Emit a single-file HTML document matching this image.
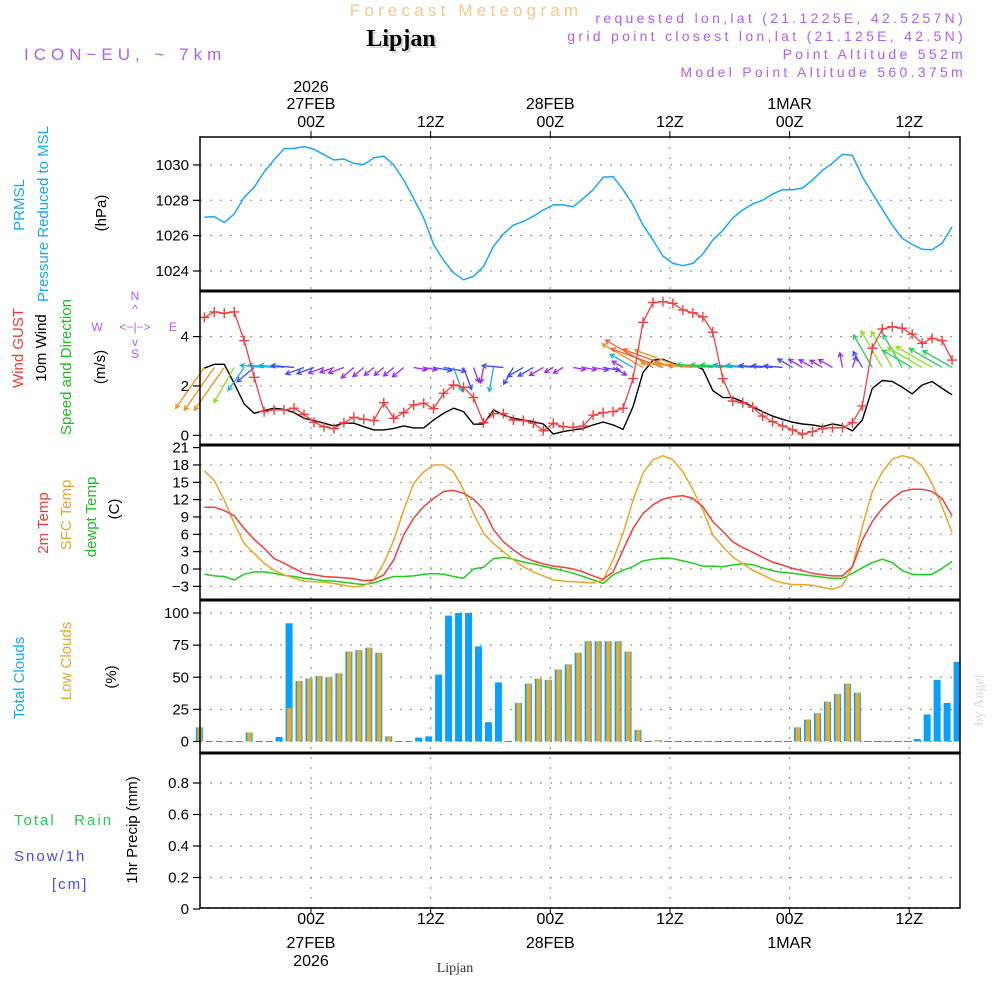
<!DOCTYPE html>
<html><head><meta charset="utf-8"><style>
html,body{margin:0;padding:0;background:#fff;}
svg{display:block;font-family:"Liberation Sans",sans-serif;}
</style></head><body>
<svg id="chart" width="1000" height="1000" viewBox="0 0 1000 1000" xmlns="http://www.w3.org/2000/svg">
<text x="466" y="16" text-anchor="middle" font-size="17" fill="#f3c98a" letter-spacing="4.2">Forecast Meteogram</text>
<text x="403" y="48" text-anchor="middle" font-size="24" font-weight="bold" font-family="Liberation Serif, serif" fill="#cdd8c8">Lipjan</text>
<text x="401" y="46" text-anchor="middle" font-size="24" font-weight="bold" font-family="Liberation Serif, serif" fill="#000">Lipjan</text>
<text x="24" y="60" font-size="17" fill="#b060f0" letter-spacing="5">ICON−EU, ~ 7km</text>
<g font-size="14" fill="#b060f0" text-anchor="end" letter-spacing="3.3">
<text x="966" y="23">requested lon,lat (21.1225E, 42.5257N)</text>
<text x="966" y="41">grid point closest lon,lat (21.125E, 42.5N)</text>
<text x="966" y="59">Point Altitude 552m</text>
<text x="966" y="77">Model Point Altitude 560.375m</text>
</g>
<g id="grid"></g>
<g id="marks"></g>
<g id="frames"></g>
<g id="ticks" font-size="15" fill="#000"></g>
<g font-size="15">
<text transform="translate(24,205) rotate(-90)" text-anchor="middle" fill="#18a8f0">PRMSL</text>
<text transform="translate(48,214) rotate(-90)" text-anchor="middle" fill="#18a8f0">Pressure Reduced to MSL</text>
<text transform="translate(106,213) rotate(-90)" text-anchor="middle" fill="#000">(hPa)</text>
<text transform="translate(23,348) rotate(-90)" text-anchor="middle" fill="#f03c3c">Wind GUST</text>
<text transform="translate(46,348) rotate(-90)" text-anchor="middle" fill="#000">10m Wind</text>
<text transform="translate(71,367) rotate(-90)" text-anchor="middle" fill="#22bb22">Speed and Direction</text>
<text transform="translate(105,367) rotate(-90)" text-anchor="middle" fill="#000">(m/s)</text>
<text transform="translate(48,523) rotate(-90)" text-anchor="middle" fill="#f03c3c">2m Temp</text>
<text transform="translate(71,515) rotate(-90)" text-anchor="middle" fill="#e8a828">SFC Temp</text>
<text transform="translate(96,517) rotate(-90)" text-anchor="middle" fill="#22bb22">dewpt Temp</text>
<text transform="translate(119,509) rotate(-90)" text-anchor="middle" fill="#000">(C)</text>
<text transform="translate(24,678) rotate(-90)" text-anchor="middle" fill="#18a8f0">Total Clouds</text>
<text transform="translate(71,661) rotate(-90)" text-anchor="middle" fill="#e8a828">Low Clouds</text>
<text transform="translate(116,677) rotate(-90)" text-anchor="middle" fill="#000">(%)</text>
<text x="14" y="825" fill="#22cc44" letter-spacing="2">Total&#160;&#160;&#160;Rain</text>
<text x="14" y="861" fill="#4a4af0" letter-spacing="2">Snow/1h</text>
<text x="52" y="889" fill="#4a4af0" letter-spacing="2">[cm]</text>
<text transform="translate(137,830) rotate(-90)" text-anchor="middle" fill="#000">1hr Precip (mm)</text>
</g>
<g font-size="12" fill="#b060f0">
<text x="135" y="300" text-anchor="middle">N</text>
<text x="135" y="313" text-anchor="middle">^</text>
<text x="97" y="331" text-anchor="middle">W</text>
<text x="135" y="331" text-anchor="middle">&lt;−|−&gt;</text>
<text x="173" y="331" text-anchor="middle">E</text>
<text x="135" y="346" text-anchor="middle">v</text>
<text x="135" y="358" text-anchor="middle">S</text>
</g>
<text transform="translate(983,700) rotate(-90)" text-anchor="middle" font-size="14" font-family="Liberation Serif, serif" fill="#d8d8d8">by Angel</text>
<text x="455" y="972" text-anchor="middle" font-size="14" font-family="Liberation Serif, serif" fill="#333">Lipjan</text>
</svg>
<script>
// ---- data ----
const xTickHours = [0, 12, 24, 36, 48, 60];
const xTickLabels = ["00Z", "12Z", "00Z", "12Z", "00Z", "12Z"];
const dateLabels = ["27FEB", "", "28FEB", "", "1MAR", ""];
const yearLabels = ["2026", "", "", "", "", ""];
const pressTicks = [1024, 1026, 1028, 1030];
const windTicks = [0, 2, 4];
const tempTicks = [-3, 0, 3, 6, 9, 12, 15, 18, 21];
const cloudTicks = [0, 25, 50, 75, 100];
const rainTicks = [0, 0.2, 0.4, 0.6, 0.8];
const rainTickLabels = ["0", "0.2", "0.4", "0.6", "0.8"];
const pressure = [1027.04,1027.08,1026.74,1027.23,1028.17,1028.74,1029.6,1030.3,1030.92,1030.94,1031.04,1030.89,1030.58,1030.28,1030.34,1030.09,1030.02,1030.4,1030.5,1030,1029.15,1028.1,1027,1025.5,1024.6,1023.9,1023.5,1023.7,1024.25,1025.4,1026.1,1026.6,1026.8,1027.1,1027.45,1027.74,1027.74,1027.64,1028.1,
 1028.6,1029.3,1029.34,1028.6,1027.74,1026.6,1025.75,1024.85,1024.43,1024.3,1024.43,1024.96,1025.75,1026.3,1027,1027.45,1027.8,1028,1028.36,1028.6,1028.6,1028.7,1029.15,1029.7,1030.1,1030.6,1030.55,1029.34,1028.4,1027.5,1026.6,1025.85,1025.5,1025.23,1025.2,1025.57,1026.5];
const gust = [4.78,5.0,4.95,5.0,3.84,2.35,0.96,1.03,1.03,1.1,0.85,0.53,0.35,0.27,0.51,0.73,0.65,0.6,1.32,0.69,0.92,1.23,1.3,1.08,1.7,2.04,1.95,1.53,0.51,0.88,0.88,0.62,0.6,0.49,0.19,0.49,0.35,0.32,0.38,
 0.82,0.92,0.96,1.1,2.3,4.58,5.38,5.42,5.35,5.08,4.97,4.8,4.18,2.3,1.39,1.32,1.14,0.78,0.55,0.38,0.22,0.05,0.15,0.28,0.31,0.31,0.51,1.19,3.53,4.31,4.4,4.34,4.1,3.73,3.93,3.84,3.05];
const wind10 = [2.72,2.88,2.88,2.1,1.27,0.89,1.0,1.1,1.05,0.92,0.69,0.6,0.49,0.38,0.49,0.49,0.35,0.22,0.22,0.28,0.38,0.3,0.3,0.62,0.89,1.1,0.96,0.45,0.45,1.03,0.82,0.69,0.62,0.55,0.46,0.05,0.15,0.22,0.28,
 0.42,0.54,0.42,0.24,1.16,2.54,3.05,3.08,2.92,2.81,2.85,2.68,1.81,1.53,1.53,1.36,1.16,0.96,0.78,0.65,0.53,0.46,0.42,0.35,0.46,0.39,0.18,0.62,1.9,2.22,2.18,1.95,1.68,2.04,2.18,1.9,1.64];
const windDir = [215,215,215,210,215,230,275,275,275,275,250,250,250,250,250,230,230,230,230,230,230,100,100,100,100,160,160,160,190,190,275,210,240,240,240,240,240,100,100,100,100,120,300,300,300,300,290,290,290,275,275,275,275,275,275,275,275,275,275,300,300,300,300,300,350,20,330,330,330,330,330,300,300,300,300,300];
const t2m = [10.7,10.7,10.1,9.2,7,5.1,3.6,1.8,1,0.1,-0.75,-1,-1.3,-1.4,-1.5,-1.7,-2,-1.9,-1,1.6,5.9,8.8,10.8,12.2,13.4,13.6,13.1,12.1,10.3,6.8,4.7,3.3,2.1,1.4,0.9,0.5,0.3,0,-0.5,-1.2,
 -1.8,-0.5,3.3,7,9.6,11.1,12.1,12.5,12.7,12.2,10.8,8.2,6.5,4.7,3.7,2.9,2,1.2,0.7,0.1,-0.3,-0.75,-1,-1.2,-1.2,0.4,5,8.2,10.5,12.2,13.4,13.8,13.8,13.4,12.2,9.2];
const tsfc = [17,15.3,11.9,7.9,4.4,2.7,1,-0.2,-1,-1.6,-2.1,-2.2,-2.3,-2.5,-2.8,-3.1,-2.9,-1.9,1,5,10.2,14.8,16.8,18,18,16.8,13.7,9.6,6.2,4.4,3,1.6,0.4,-0.5,-1.2,-1.9,-2.1,-2.2,-2.3,-2.4,
 -1.9,1.6,6.2,11.9,16.6,18.9,19.6,18.9,16.8,13.7,10.2,5.9,3.9,2.1,0.9,-0.2,-1,-1.9,-2.4,-2.7,-2.7,-2.8,-3.2,-3.5,-2.9,0.4,7.3,13.4,16.8,19,19.6,19.2,17.8,14.8,10.8,6.3];
const dewpt = [-0.9,-1.2,-1.3,-1.9,-0.9,-0.5,-0.5,-0.75,-1.1,-1.3,-1.6,-1.8,-2,-2.1,-2.3,-2.5,-2.7,-2.4,-1.8,-1.3,-1.3,-1.2,-0.9,-0.8,-0.9,-1.3,-1.6,0,0.3,1.8,2,1.7,1.2,0.9,0.5,0.1,-0.3,-0.75,-1.3,-1.9,
 -2.5,-1,-0.2,0.4,1.4,1.7,1.9,1.8,1.4,1,0.5,0.5,0.4,0.7,0.9,0.75,0.2,-0.3,-0.6,-0.75,-1,-1.2,-1.4,-1.6,-1.6,-0.75,0.2,1.1,1.7,1.1,-0.3,-0.9,-1,-0.9,0.1,1.3];
const totalCloud = [11,0,0,0,0,7,0,0,3.6,92,47,49,51,50,53,70,71,73,69,4,0,0,3,4,52,98,100,100,74,15,46,0,30,45,49,48,56,60,69,78,78,78,78,70,9,0,1,0,0,0,0,0,0,0,0,0,0,0,0,0,11,17,22,31,37,45,38,0,0,0,0,0,2,21,48,30,62];
const lowCloud   = [11,0,0,0,0,7,0,0,0,26,47,49,51,50,53,70,71,73,69,4,0,0,0,0,0,0,0,0,0,0,0,0,30,45,49,48,56,60,69,78,78,78,78,70,9,0,1,0,0,0,0,0,0,0,0,0,0,0,0,0,11,17,22,31,37,45,38,0,0,0,0,0,0,0,0,0,0];
const rain = new Array(77).fill(0);

// ---- layout ----
const NS = "http://www.w3.org/2000/svg";
const X0 = 200, X1 = 960;
const P = [{t:137,b:291},{t:291,b:445},{t:445,b:600},{t:600,b:753},{t:753,b:908}];
const LINE_T0 = -10.7, BAR_T0 = -11.2;
const xOf = h => 311 + h * 9.97;
const yP = v => 271 - (v - 1024) * 17.67;
const yW = v => 435.3 - v * 24.67;
const yT = v => 569 - v * 5.78;
const yC = v => 741.5 - v * 1.285;
const yR = v => 909 - v * 157.5;

function el(tag, attrs, parent) {
  const e = document.createElementNS(NS, tag);
  for (const k in attrs) e.setAttribute(k, attrs[k]);
  parent.appendChild(e);
  return e;
}
const grid = document.getElementById('grid');
const marks = document.getElementById('marks');
const frames = document.getElementById('frames');
const ticks = document.getElementById('ticks');

xTickHours.forEach((h) => {
  const g = el('line', {x1:xOf(h), x2:xOf(h), y1:137, y2:908, stroke:'#999', 'stroke-width':1.2, 'stroke-dasharray':'2,8'}, grid);
  
  
});
function hgrid(y) {
  const g = el('line', {x1:X0, x2:X1, y1:y, y2:y, stroke:'#999', 'stroke-width':1.2, 'stroke-dasharray':'2,8'}, grid);
  
  
}
function ytick(y, label) {
  const t = el('line', {x1:193, x2:200, y1:y, y2:y, stroke:'#000', 'stroke-width':1.2}, ticks);
  
  
  const tx = el('text', {x:189, y:y+5, 'text-anchor':'end'}, ticks);
  tx.textContent = label;
  
  
}
pressTicks.forEach(v => { hgrid(yP(v)); ytick(yP(v), String(v)); });
windTicks.forEach(v => { hgrid(yW(v)); ytick(yW(v), String(v)); });
tempTicks.forEach(v => { if (v < 21) hgrid(yT(v)); ytick(yT(v), v < 0 ? '−' + (-v) : String(v)); });
cloudTicks.forEach(v => { hgrid(yC(v)); ytick(yC(v), String(v)); });
rainTicks.forEach((v, i) => { if (v > 0) hgrid(yR(v)); ytick(yR(v), rainTickLabels[i]); });

xTickHours.forEach((h, i) => {
  const x = xOf(h);
  const a = el('text', {x:x, y:127, 'text-anchor':'middle', 'font-size':16}, ticks);
  a.textContent = xTickLabels[i];
  
  
  const b = el('text', {x:x, y:924, 'text-anchor':'middle', 'font-size':16}, ticks);
  b.textContent = xTickLabels[i];
  
  
  if (dateLabels[i]) {
    const c = el('text', {x:x, y:109, 'text-anchor':'middle', 'font-size':16}, ticks);
    c.textContent = dateLabels[i];
    
    
    const d = el('text', {x:x, y:948, 'text-anchor':'middle', 'font-size':16}, ticks);
    d.textContent = dateLabels[i];
    
    
  }
  if (yearLabels[i]) {
    const e = el('text', {x:x, y:92, 'text-anchor':'middle', 'font-size':16}, ticks);
    e.textContent = yearLabels[i];
    
    
    const f = el('text', {x:x, y:966, 'text-anchor':'middle', 'font-size':16}, ticks);
    f.textContent = yearLabels[i];
    
    
  }
  const t1 = el('line', {x1:x, x2:x, y1:131, y2:137, stroke:'#000'}, ticks);
  
  
  const t2 = el('line', {x1:x, x2:x, y1:908, y2:914, stroke:'#000'}, ticks);
  
  
});

function polyline(vals, yf, color, name, width) {
  const pts = vals.map((v, i) => xOf(LINE_T0 + i).toFixed(1) + ',' + yf(v).toFixed(1)).join(' ');
  const p = el('polyline', {points:pts, fill:'none', stroke:color, 'stroke-width':width || 1.5, 'stroke-linejoin':'round'}, marks);
  
  
  return p;
}
polyline(pressure, yP, '#18a8f8', 'pressure-line');

totalCloud.forEach((v, i) => {
  const x = xOf(BAR_T0 + i);
  if (v > 0) {
    const r = el('rect', {x:x-3.5, y:yC(v), width:7, height:yC(0)-yC(v), fill:'#0aa0ff'}, marks);
    
    
  } else {
    const r = el('rect', {x:x-3.5, y:yC(0)-0.5, width:7, height:1, fill:'#0aa0ff'}, marks);
    
    
  }
});
lowCloud.forEach((v, i) => {
  const x = xOf(BAR_T0 + i);
  if (v > 0) {
    const r = el('rect', {x:x-2, y:yC(v), width:4.5, height:yC(0)-yC(v), fill:'#e8aa28'}, marks);
    
    
  }
});

const rl = el('line', {x1:X0, x2:X1, y1:yR(0)-1, y2:yR(0)-1, stroke:'#000', 'stroke-width':1.2, 'stroke-dasharray':'4,3'}, marks);



polyline(dewpt, yT, '#22cc22', 'dewpoint-line');
polyline(tsfc, yT, '#e8a828', 'sfc-temp-line');
polyline(t2m, yT, '#f04040', 't2m-line');

polyline(wind10, yW, '#000', 'wind10-line', 1.4);
function arrowColor(s) {
  if (s < 0.5) return '#9a2af0';
  if (s < 1.0) return '#3a4af8';
  if (s < 1.5) return '#18b0e8';
  if (s < 2.0) return '#20cc60';
  if (s < 2.5) return '#90dd20';
  if (s < 2.9) return '#f09020';
  return '#f06030';
}
const BASE_Y = yW(2.75);
windDir.forEach((d, i) => {
  const s = wind10[i];
  const x = xOf(LINE_T0 + i);
  const L = 9 + s * 15;
  const rad = d * Math.PI / 180;
  const ex = x + Math.sin(rad) * L, ey = BASE_Y - Math.cos(rad) * L;
  const c = arrowColor(s);
  const g = el('g', {stroke:c, 'stroke-width':1.3, fill:'none'}, marks);
  
  
  el('line', {x1:x, y1:BASE_Y, x2:ex, y2:ey}, g);
  const ha = 5, a1 = rad + Math.PI - 0.5, a2 = rad + Math.PI + 0.5;
  el('polyline', {points:(ex + Math.sin(a1)*ha) + ',' + (ey - Math.cos(a1)*ha) + ' ' + ex + ',' + ey + ' ' + (ex + Math.sin(a2)*ha) + ',' + (ey - Math.cos(a2)*ha)}, g);
});
polyline(gust, yW, '#f04040', 'gust-line', 1.3);
gust.forEach((v, i) => {
  const x = xOf(LINE_T0 + i), y = yW(v);
  const m = el('path', {d:'M' + (x-5) + ' ' + y + 'H' + (x+5) + 'M' + x + ' ' + (y-5) + 'V' + (y+5), stroke:'#f04040', 'stroke-width':1.4}, marks);
  
  
});

P.forEach((p) => {
  const r = el('rect', {x:X0, y:p.t, width:X1-X0, height:p.b-p.t, fill:'none', stroke:'#000', 'stroke-width':1.5}, frames);
  
  
});
[291, 445, 600, 753].forEach(y => {
  const l = el('line', {x1:X0, x2:X1, y1:y, y2:y, stroke:'#000', 'stroke-width':3}, frames);
  
  
});
</script>
</body></html>
